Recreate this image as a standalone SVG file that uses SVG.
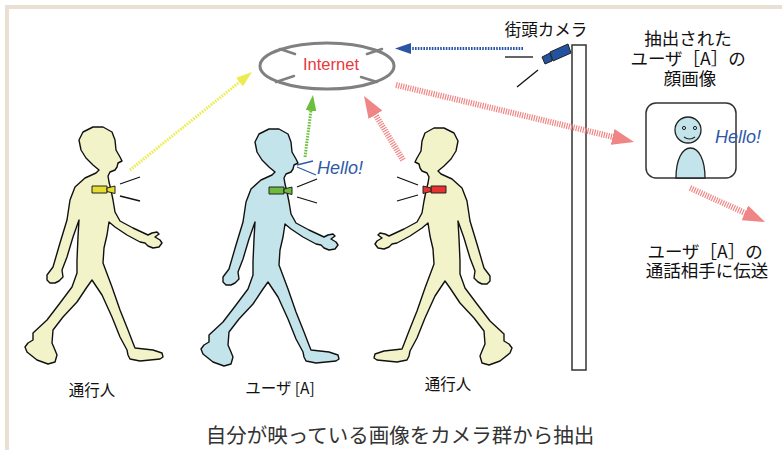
<svg xmlns="http://www.w3.org/2000/svg" xmlns:xlink="http://www.w3.org/1999/xlink" width="782" height="450" viewBox="0 0 782 450">
  <style>
    .jp { font-family: "Noto Sans CJK JP", "Noto Sans", sans-serif; fill: #111; }
    .lat { font-family: "Liberation Sans", Arial, sans-serif; }
    .hello { font-family: "Liberation Sans", Arial, sans-serif; font-style: italic; fill: #2f5aa8; }
    .walker { stroke: #111; stroke-width: 1.4; stroke-linejoin: round; }
    .yellowbody { fill: #f3f3c9; }
    .bluebody { fill: #c3e4ea; }
    .voice { stroke: #111; stroke-width: 1.3; fill: none; }
    .cam { stroke: #222; stroke-width: 1; stroke-linejoin: round; }
    .hatch { fill: none; stroke: #f08585; stroke-width: 6; stroke-dasharray: 1.2 1.2; }
    .dots { fill: none; stroke-width: 3; stroke-dasharray: 1.6 1.2; }
  </style>
  <defs>
    <!-- walking figure, facing right -->
    <path id="walker" d="M103,127 L112,132 L115,140 L116,150 L120,157 L122,161 L118,163 L117,167 L115,170 L110,172
      L108,176 L109,182 L111,190 L113,200 L115,212
      L120,221 L133,228 L148,235
      L152,233 L157,232 L159,234 L155,237 L160,240 L162,243 L159,247 L153,248 L148,246 L145,243
      L140,242 L127,235 L115,227 L109,222
      L107,235 L104,248 L103,263
      L112,287 L120,310 L128,330 L133,343
      L135,348 L153,350 L162,353 L163,357 L160,359 L140,361 L130,359 L128,355
      L127,350 L120,337 L112,317 L102,295 L92,280
      L87,287 L77,302 L63,317 L53,330 L52,343 L55,350
      L57,355 L55,362 L48,364 L37,360 L27,352 L25,347 L28,343 L33,340
      L33,333 L47,320 L60,303 L72,287 L77,273
      L77,260 L78,237 L79,220
      L73,237 L67,257 L62,270
      L63,277 L59,281 L55,283 L50,283 L47,280 L47,275 L50,271
      L53,267 L60,243 L67,220 L70,200 L75,187 L85,178 L96,173 L99,170
      L93,165 L86,158 L81,150 L79,140 L83,132 L93,127 Z"/>
    <!-- small body-worn camera, lens to the right -->
    <g id="bodycam">
      <rect x="0" y="0" width="15" height="7"/>
      <polygon points="15,2 23,0 23,7.5 15,5.5"/>
    </g>
    <marker id="headRed" markerUnits="userSpaceOnUse" viewBox="0 0 22 16" markerWidth="22" markerHeight="16" refX="12" refY="8" orient="auto">
      <path d="M0,0 L22,8 L0,16 z" fill="#f08585"/>
    </marker>
    <marker id="headBlue" markerUnits="userSpaceOnUse" viewBox="0 0 16 11" markerWidth="16" markerHeight="11" refX="10" refY="5.5" orient="auto">
      <path d="M0,0 L16,5.5 L0,11 z" fill="#2a55a5"/>
    </marker>
    <marker id="headYellow" markerUnits="userSpaceOnUse" viewBox="0 0 16 11" markerWidth="16" markerHeight="11" refX="10" refY="5.5" orient="auto">
      <path d="M0,0 L16,5.5 L0,11 z" fill="#ecec50"/>
    </marker>
    <marker id="headGreen" markerUnits="userSpaceOnUse" viewBox="0 0 16 11" markerWidth="16" markerHeight="11" refX="10" refY="5.5" orient="auto">
      <path d="M0,0 L16,5.5 L0,11 z" fill="#6cbf3c"/>
    </marker>
  </defs>

  <rect width="782" height="450" fill="#fff"/>
  <!-- frame -->
  <path d="M7,450 V7 H782" fill="none" stroke="#e9dfd2" stroke-width="4"/>

  <!-- street pole -->
  <g id="pole">
    <rect x="572" y="45" width="14" height="325" fill="#fff" stroke="#333" stroke-width="1.5"/>
  </g>

  <!-- internet cloud -->
  <g id="internet">
    <ellipse cx="327" cy="66" rx="67" ry="23" fill="none" stroke="#808080" stroke-width="3"/>
    <g stroke="#808080" stroke-width="2.5" stroke-linecap="round">
      <line x1="280" y1="49" x2="295" y2="54"/>
      <line x1="276" y1="82" x2="294" y2="76"/>
      <line x1="367" y1="54" x2="382" y2="49"/>
      <line x1="361" y1="77" x2="377" y2="82"/>
    </g>
    <text class="lat" x="331" y="70" font-size="16.5" fill="#e8383d" text-anchor="middle">Internet</text>
  </g>

  <!-- street camera -->
  <g id="street-camera">
    <polygon class="cam" points="550,52 568,44 571,53 553,61" fill="#2352a0"/>
    <polygon class="cam" points="542,57 550,53 552,61 545,64" fill="#2352a0"/>
    <line class="voice" x1="505" y1="57" x2="533" y2="57"/>
    <line class="voice" x1="517" y1="87" x2="538" y2="70"/>
    <text class="jp" x="546" y="36" font-size="16.5" text-anchor="middle">街頭カメラ</text>
  </g>

  <!-- pedestrian, left -->
  <g id="pedestrian-left">
    <use xlink:href="#walker" class="walker yellowbody"/>
    <use xlink:href="#bodycam" class="cam" fill="#e6dc32" transform="translate(92,186)"/>
    <line class="voice" x1="120" y1="184" x2="140" y2="177"/>
    <line class="voice" x1="120" y1="196" x2="140" y2="201"/>
    <text class="jp" x="92" y="396" font-size="15.5" text-anchor="middle">通行人</text>
  </g>

  <!-- user A -->
  <g id="user-a">
    <use xlink:href="#walker" class="walker bluebody" transform="translate(176,2)"/>
    <use xlink:href="#bodycam" class="cam" fill="#6cbb3c" transform="translate(269,187)"/>
    <line class="voice" x1="297" y1="187" x2="317" y2="179"/>
    <line class="voice" x1="297" y1="197" x2="317" y2="203"/>
    <g stroke="#2f5aa8" stroke-width="1.3" fill="none">
      <line x1="297" y1="165" x2="313" y2="161"/>
      <line x1="297" y1="167" x2="316" y2="175"/>
    </g>
    <text class="hello" x="317" y="174" font-size="18">Hello!</text>
    <text class="jp" x="280" y="394" font-size="15.5" text-anchor="middle">ユーザ [A]</text>
  </g>

  <!-- pedestrian, right (facing left) -->
  <g id="pedestrian-right">
    <use xlink:href="#walker" class="walker yellowbody" transform="matrix(-1,0,0,1,537,1)"/>
    <use xlink:href="#bodycam" class="cam" fill="#e83232" transform="translate(446,186) scale(-1,1)"/>
    <line class="voice" x1="397" y1="177" x2="418" y2="185"/>
    <line class="voice" x1="397" y1="201" x2="418" y2="195"/>
    <text class="jp" x="448" y="390" font-size="15.5" text-anchor="middle">通行人</text>
  </g>

  <!-- extracted face image -->
  <g id="face-image">
    <text class="jp" font-size="17.5" text-anchor="middle">
      <tspan x="690" y="45">抽出された</tspan>
      <tspan x="690" y="65">ユーザ［A］の</tspan>
      <tspan x="690" y="85">顔画像</tspan>
    </text>
    <rect x="646" y="103" width="90" height="75" rx="10" fill="#fff" stroke="#333" stroke-width="1.5"/>
    <path d="M676,178 C676,160 682,148 690.5,148 C699,148 705,160 705,178 Z" fill="#c3e4ea" stroke="#222" stroke-width="1.3"/>
    <circle cx="688" cy="130" r="13" fill="#c3e4ea" stroke="#222" stroke-width="1.3"/>
    <circle cx="684" cy="128" r="1.6" fill="none" stroke="#222" stroke-width="1"/>
    <circle cx="695" cy="128" r="1.6" fill="none" stroke="#222" stroke-width="1"/>
    <path d="M684,137 Q689.5,141 695,137" fill="none" stroke="#222" stroke-width="1.2"/>
    <text class="hello" x="715" y="143" font-size="18">Hello!</text>
  </g>

  <!-- destination -->
  <g id="call-partner">
    <text class="jp" font-size="17.5" text-anchor="middle">
      <tspan x="707" y="258">ユーザ［A］の</tspan>
      <tspan x="707" y="277">通話相手に伝送</tspan>
    </text>
  </g>

  <!-- connectors -->
  <g id="connectors">
    <path class="dots" stroke="#2a55a5" d="M523,48.5 L401,48.5" marker-end="url(#headBlue)"/>
    <path class="dots" stroke="#ecec50" d="M130,170 L247.3,75.8" marker-end="url(#headYellow)"/>
    <path class="dots" stroke="#6cbf3c" d="M305,157 L312.2,101" marker-end="url(#headGreen)"/>
    <path class="hatch" d="M403,160 L369.2,104.5" marker-end="url(#headRed)"/>
    <path class="hatch" d="M396,85 L624.3,139.7" marker-end="url(#headRed)"/>
    <path class="hatch" d="M690,188 L755.9,217.9" marker-end="url(#headRed)"/>
  </g>

  <!-- caption -->
  <text class="jp" x="400" y="443" font-size="20.5" text-anchor="middle" style="fill:#333">自分が映っている画像をカメラ群から抽出</text>
</svg>
